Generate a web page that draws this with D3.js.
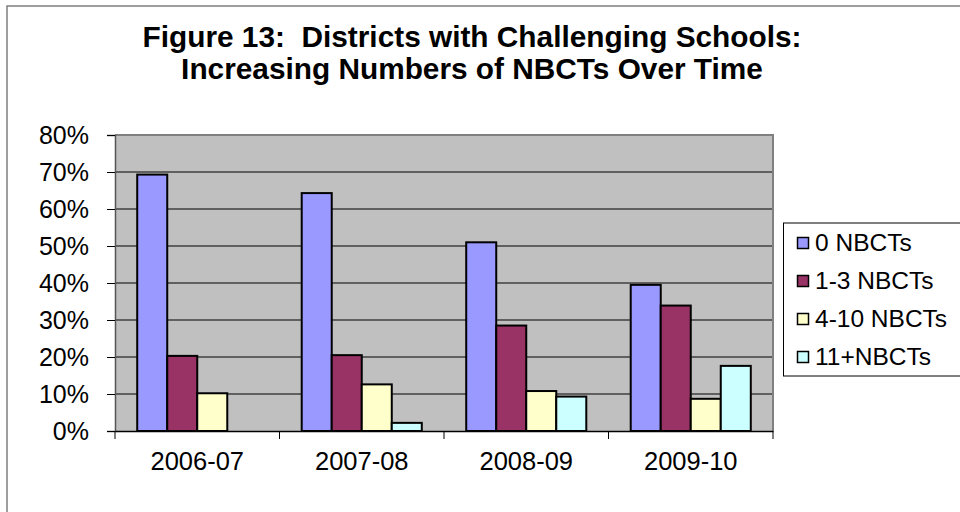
<!DOCTYPE html>
<html>
<head>
<meta charset="utf-8">
<script src="https://cdn.jsdelivr.net/npm/d3@7"></script>
<style>
  html, body { margin: 0; padding: 0; background: #fff; }
  svg { display: block; font-family: Arial, "Liberation Sans", sans-serif; }
  text { white-space: pre; }
</style>
</head>
<body>
<svg id="chart" width="960" height="512"></svg>
<script>
// School years on the x axis
const years = ["2006-07", "2007-08", "2008-09", "2009-10"];
// Series: share of districts by number of NBCTs (percent)
const seriesNames = ["0 NBCTs", "1-3 NBCTs", "4-10 NBCTs", "11+NBCTs"];
const zeroNbcts = [69.3, 64.3, 51.0, 39.5];
const oneToThree = [20.3, 20.5, 28.5, 33.9];
const fourToTen = [10.2, 12.6, 10.8, 8.7];
const elevenPlus = [0, 2.2, 9.3, 17.6];
const yTicks = [0, 10, 20, 30, 40, 50, 60, 70, 80];
const titleLines = ["Figure 13:  Districts with Challenging Schools:", "Increasing Numbers of NBCTs Over Time"];
const colors = ["#9999ff", "#993366", "#ffffcc", "#ccffff"];

const seriesValues = [zeroNbcts, oneToThree, fourToTen, elevenPlus];
const rows = years.map((y, i) => ({ year: y, values: seriesValues.map(s => s[i]) }));

const svg = d3.select("#chart");

// Outer chart frame
svg.append("rect")
  .attr("x", 7).attr("y", 6).attr("width", 980).attr("height", 530)
  .attr("fill", "#fff").attr("stroke", "#7f7f7f").attr("stroke-width", 1.5);

// Title
svg.append("g").selectAll("text").data(titleLines).join("text")
  .attr("x", 472).attr("y", (d, i) => 47 + i * 32)
  .attr("text-anchor", "middle")
  .attr("font-size", 29.8).attr("font-weight", "bold").attr("fill", "#000")
  .text(d => d);

const plot = { left: 115, right: 773, top: 135, bottom: 431 };

const x = d3.scaleBand().domain(years).range([plot.left, plot.right]).paddingInner(0).paddingOuter(0);
const xSub = d3.scaleBand().domain(d3.range(seriesNames.length))
  .range([0, x.bandwidth()]).paddingOuter(0.74).paddingInner(0);
const y = d3.scaleLinear().domain([0, 80]).range([plot.bottom, plot.top]);

// Plot area background
svg.append("rect")
  .attr("x", plot.left).attr("y", plot.top)
  .attr("width", plot.right - plot.left).attr("height", plot.bottom - plot.top)
  .attr("fill", "#c0c0c0");

// Gridlines
svg.append("g").selectAll("line").data(yTicks.filter(t => t > 0 && t < 80)).join("line")
  .attr("x1", plot.left).attr("x2", plot.right)
  .attr("y1", d => y(d)).attr("y2", d => y(d))
  .attr("stroke", "#000").attr("stroke-width", 1);

// Plot area border (top and right)
svg.append("path")
  .attr("d", `M${plot.left},${plot.top}H${plot.right}V${plot.bottom}`)
  .attr("fill", "none").attr("stroke", "#808080").attr("stroke-width", 2);

// Bars
svg.append("g").selectAll("g").data(rows).join("g")
  .attr("transform", d => `translate(${x(d.year)},0)`)
  .selectAll("rect").data(d => d.values.map((v, k) => ({ v, k }))).join("rect")
  .attr("x", d => xSub(d.k)).attr("width", xSub.bandwidth())
  .attr("y", d => y(d.v)).attr("height", d => y(0) - y(d.v))
  .attr("fill", d => colors[d.k])
  .attr("stroke", "#000").attr("stroke-width", d => d.v > 0 ? 2 : 0);

// Y axis
const yAxis = svg.append("g")
  .attr("transform", `translate(${plot.left},0)`)
  .call(d3.axisLeft(y).tickValues(yTicks).tickFormat(d => d + "%").tickSize(8).tickPadding(18));
yAxis.select(".domain").attr("stroke", "#555").attr("stroke-width", 1.5);
yAxis.selectAll(".tick line").attr("stroke", "#000");
yAxis.selectAll("text").attr("font-size", 25).attr("font-family", "Arial, 'Liberation Sans', sans-serif").attr("fill", "#000");

// X axis
const xAxis = svg.append("g")
  .attr("transform", `translate(0,${plot.bottom})`)
  .call(d3.axisBottom(x).tickSize(0).tickPadding(21));
xAxis.select(".domain").attr("stroke", "#000").attr("stroke-width", 1.5);
xAxis.selectAll("text").attr("font-size", 25.5).attr("font-family", "Arial, 'Liberation Sans', sans-serif").attr("fill", "#000");
// Category separator ticks
svg.append("g").selectAll("line").data(years.concat([null])).join("line")
  .attr("x1", (d, i) => plot.left + i * x.bandwidth()).attr("x2", (d, i) => plot.left + i * x.bandwidth())
  .attr("y1", plot.bottom).attr("y2", plot.bottom + 8)
  .attr("stroke", "#000").attr("stroke-width", 1);

// Legend
const legend = svg.append("g");
legend.append("rect")
  .attr("x", 783.5).attr("y", 223).attr("width", 200).attr("height", 153)
  .attr("fill", "#fff").attr("stroke", "#000").attr("stroke-width", 1);
const item = legend.selectAll("g").data(seriesNames).join("g")
  .attr("transform", (d, i) => `translate(0,${243 + i * 38})`);
item.append("rect")
  .attr("x", 797.5).attr("y", -5.5).attr("width", 11).attr("height", 11)
  .attr("fill", (d, i) => colors[i]).attr("stroke", "#000").attr("stroke-width", 1.5);
item.append("text")
  .attr("x", 815).attr("y", 8)
  .attr("font-size", 24.5).attr("fill", "#000")
  .text(d => d);
</script>
</body>
</html>
